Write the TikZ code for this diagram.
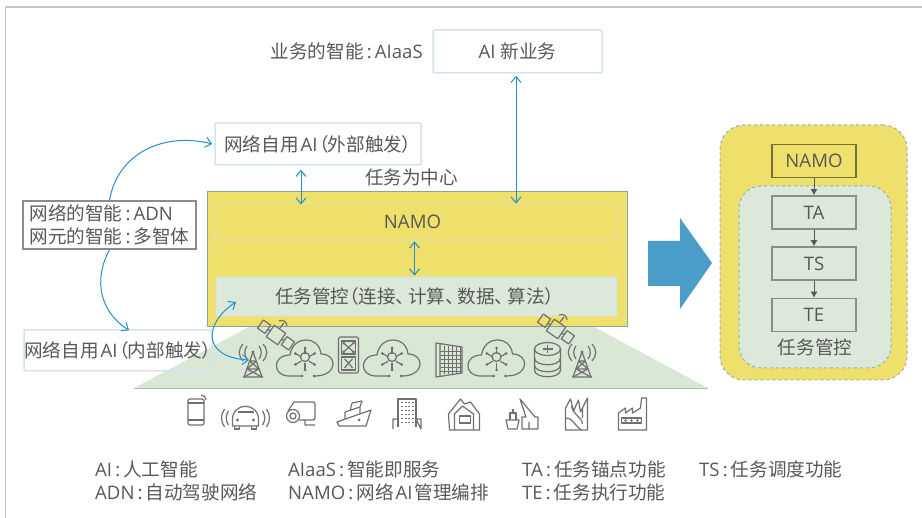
\documentclass[tikz,border=0pt]{standalone}
\usepackage{fontspec}
\setmainfont[RawFeature=+palt]{Noto Sans CJK SC}
\newfontfamily\enfont{Open Sans}
\usetikzlibrary{arrows.meta}
\definecolor{txtgray}{HTML}{585858}
\definecolor{icongray}{HTML}{707070}
\definecolor{yellowfill}{HTML}{EEE06A}
\definecolor{greenfill}{HTML}{DCE8DA}
\definecolor{trapfill}{HTML}{D9E7D5}
\definecolor{paleblue}{HTML}{D3E3F0}
\definecolor{linkblue}{HTML}{2290CF}
\definecolor{bigblue}{HTML}{4A9CC9}
\definecolor{dashblue}{HTML}{8FB0C4}
\newcommand{\en}[1]{{\enfont #1}}
\newcommand{\sep}{\,\en{:}\,}
\tikzset{
  txt/.style={text=txtgray,font=\fontsize{18.6}{22}\selectfont,inner sep=0},
  lbl/.style={txt,anchor=west},
  bluebox/.style={txt,draw=paleblue,line width=1.5,rounded corners=1},
  graybox/.style={txt,draw=gray!90,line width=1.5,minimum width=84,minimum height=33,fill=greenfill},
  link/.style={draw=linkblue,line width=1,>={Straight Barb[length=6pt,width=10pt]}},
  flow/.style={draw=txtgray,line width=1,-{Latex[length=6pt,width=7pt]}},
  ico/.style={draw=icongray,line width=1.2,line join=round},
  pics/cloud/.style={code={
    \draw[ico] (-4,17) -- (-16,17) .. controls (-33,17) and (-33,-4) .. (-15,-4)
      .. controls (-12,-24) and (14,-24) .. (16,-5) .. controls (33,-5) and (33,17) .. (10,17);
    \fill[icongray] (-3,17) circle (1.5) (9,17) circle (1.5);
    \draw[ico] (0,-2) circle (4.5);
    \foreach \a in {30,90,...,330} {
      \draw[ico] (\a:4.5) -- (\a:10);
      \fill[icongray] (\a:11) circle (1.5);
    }
  }},
  pics/tower/.style={code={
    \draw[ico] (-9,13) -- (0,-12) -- (9,13) (-10,13) -- (10,13);
    \draw[ico] (-6,5) -- (6,5) (-3.5,-3) -- (3.5,-3) (-6,5) -- (9,13) (6,5) -- (-9,13) (-3.5,-3) -- (6,5) (3.5,-3) -- (-6,5);
    \fill[icongray] (0,-12) circle (1.6);
    \draw[ico] (-6,-18) .. controls (-9,-14) and (-9,-9) .. (-6,-5) (6,-18) .. controls (9,-14) and (9,-9) .. (6,-5);
    \draw[ico] (-10,-20) .. controls (-15,-14) and (-15,-9) .. (-10,-3) (10,-20) .. controls (15,-14) and (15,-9) .. (10,-3);
  }},
  pics/sat/.style={code={
    \draw[ico,rotate=-35] (-7,-7) rectangle (7,7);
    \draw[ico,rotate=-35] (-19,-5) rectangle (-10,5) (10,-5) rectangle (19,5) (-10,0) -- (-7,0) (7,0) -- (10,0);
    \draw[ico] (4,-7) -- (8,-12) (3,-14) .. controls (7,-16) and (11,-13) .. (11,-9);
  }},
  pics/board/.style={code={
    \draw[ico,rounded corners=1.5] (-10,-18) rectangle (10,18);
    \draw[ico] (-7,-14) rectangle (7,-1) (-7,2) rectangle (7,15);
    \draw[ico] (-5,-12) -- (5,-3) (5,-12) -- (-5,-3) (-4,4) -- (0,8) -- (-4,13) (4,4) -- (0,8) -- (4,13);
    \foreach \x in {-5,5} \foreach \y in {-12,-3} \fill[icongray] (\x,\y) circle (1.5);
  }},
  pics/rack/.style={code={
    \draw[ico] (-13,-17) -- (13,-13) -- (13,13) -- (-13,17) -- cycle (-9,-16) -- (-9,16);
    \foreach \x in {-5,-1,3,7,11} \draw[icongray,line width=.5] (\x,-14) -- (\x,14);
    \foreach \y in {-9,-5,...,11} \draw[icongray,line width=.5] (-9,\y) -- (13,\y);
  }},
  pics/dbase/.style={code={
    \draw[ico] (0,-11) ellipse (13 and 6.5);
    \draw[ico] (-13,-11) -- (-13,10) .. controls (-13,19) and (13,19) .. (13,10) -- (13,-11);
    \draw[ico] (-13,-2) .. controls (-13,7) and (13,7) .. (13,-2) (-13,5) .. controls (-13,14) and (13,14) .. (13,5);
    \draw[ico] (-5,-11) -- (5,-11) (0,-15) -- (0,-7);
  }},
  pics/mobile/.style={code={
    \draw[ico,rounded corners=2] (-8,-11) rectangle (8,15);
    \draw[ico] (-8,10) -- (8,10) (-8,-7) -- (8,-7);
    \draw[ico] (5,-15) .. controls (8,-15) and (10,-13) .. (10,-10);
  }},
  pics/car/.style={code={
    \draw[ico] (-13,7) .. controls (-15,-14) and (15,-14) .. (13,7) -- (13,11) -- (-13,11) -- cycle;
    \draw[ico] (-8,-3) -- (8,-3) (-11,11) -- (-11,14) -- (-6,14) -- (-6,11) (11,11) -- (11,14) -- (6,14) -- (6,11);
    \fill[icongray] (-8,5) circle (1.7) (8,5) circle (1.7);
    \draw[ico] (-17,-4) .. controls (-20,0) and (-20,6) .. (-17,10) (17,-4) .. controls (20,0) and (20,6) .. (17,10);
    \draw[ico] (-21,-6) .. controls (-25,0) and (-25,6) .. (-21,12) (21,-6) .. controls (25,0) and (25,6) .. (21,12);
  }},
  pics/camera/.style={code={
    \draw[ico,rounded corners=2] (-7,-12) -- (14,-12) -- (14,6) -- (-2,6);
    \draw[ico] (-8,2) circle (6.5) (-8,2) circle (3);
    \draw[ico] (-13,-3) -- (-7,-12) (4,6) -- (4,11) -- (14,11);
  }},
  pics/ship/.style={code={
    \draw[ico] (-17,8) -- (17,-4) -- (12,12) -- (-15,12) -- cycle;
    \draw[ico] (-9,5) -- (-9,-2) -- (6,-7) -- (6,0) (-4,-3) -- (-2,-11) -- (8,-13) -- (6,-7);
    \fill[icongray] (5,6) circle (1.5);
  }},
  pics/tallblock/.style={code={
    \draw[ico] (-9,13) -- (-9,-15) -- (9,-15) -- (9,13);
    \draw[ico] (-14,15) -- (-14,5) -- (-9,5) (9,5) -- (14,5) -- (14,15) -- cycle;
    \foreach \y in {-11,-7,...,9} \draw[icongray,line width=1,dash pattern=on 2pt off 1.5pt] (-6,\y) -- (7,\y);
  }},
  pics/house/.style={code={
    \draw[ico] (-15,16) -- (-16,0) -- (-4,-15) -- (0,-10) -- (6,-12) -- (15,0) -- (15,16) -- cycle;
    \draw[ico] (-10,16) -- (-10,0) -- (-2,-8) -- (9,0) -- (9,16);
    \draw[ico] (-5,2) rectangle (6,9);
  }},
  pics/harbor/.style={code={
    \draw[ico] (-16,6) -- (-3,6) -- (-5,15) -- (-14,15) -- cycle;
    \draw[ico] (-12,6) -- (-12,-1) -- (-6,-1) -- (-6,6) (-9,-1) -- (-9,-5);
    \draw[ico] (0,15) -- (0,3) -- (4,3) -- (-2,-15) -- (13,3) -- (16,3) -- (16,15) -- cycle (7,15) -- (7,8);
  }},
  pics/mine/.style={code={
    \draw[ico] (-11,16) -- (-11,-6) -- (-6,-15) -- (-3,-3) -- (2,-14) -- (4,-2) -- (11,-16) -- (11,16) -- cycle;
    \draw[ico] (-11,4) .. controls (-3,4) and (-2,12) .. (5,16) (-5,-8) .. controls (-3,2) and (5,2) .. (6,10) (6,-6) -- (6,4);
  }},
  pics/factory/.style={code={
    \draw[ico] (-14,16) -- (-14,-1) -- (-7,-6) -- (-7,-1) -- (0,-6) -- (0,-1) -- (8,-6) -- (9,-16) -- (14,-16) -- (14,16) -- cycle;
    \draw[ico] (-11,4) rectangle (9,9);
    \foreach \x in {-7,-1,5} \fill[icongray] (\x,6.5) circle (1.4);
  }},
}
\begin{document}
\begin{tikzpicture}[x=1pt,y=-1pt]
  \useasboundingbox (0,0) rectangle (922,518);
  \draw[gray!45,line width=1.2] (5.5,518) -- (5.5,7) -- (922,7);

  % left part
  \fill[trapfill] (134,388) -- (249,327) -- (594,327) -- (708,388) -- cycle;
  \draw[gray!55,line width=.8] (134,388) -- (708,388);
  \node[draw=dashblue!70!gray,line width=.8,fill=yellowfill,minimum width=420,minimum height=135] (yellowbox) at (417,258.5) {};
  \node[draw=gray!25,line width=.8,fill=yellowfill,rounded corners=1,minimum width=403,minimum height=37,txt] (namobar) at (416.5,221.5) {\kern-8pt\en{NAMO}};
  \node[draw=paleblue,line width=.8,fill=greenfill,rounded corners=1,minimum width=401,minimum height=39,txt] (taskbar) at (416.5,296.5) {\kern-4pt任务管控（连接、\,计算、\,数据、\,算法）};
  \node[bluebox,minimum width=169,minimum height=43] (aibox) at (517.5,51.5) {\en{AI}\kern5pt 新业务};
  \node[txt,anchor=east] (aaslabel) at (423,51) {业务的智能\sep\en{AIaaS}};
  \node[bluebox,fill=white,minimum width=206,minimum height=42] (extbox) at (318,144) {网络自用\kern2pt\en{AI}\kern1pt（外部触发）};
  \node[txt] (center) at (411.5,177) {任务为中心};
  \node[txt,draw=gray!90,line width=1.6,fill=white,minimum width=173,minimum height=48,align=left] (netbox) at (109.5,225) {网络的智能\sep\en{ADN}\\[1pt]网元的智能\sep 多智体};
  \node[bluebox,minimum width=188,minimum height=41] (intbox) at (118,350.5) {网络自用\kern2pt\en{AI}\kern1pt（内部触发）};

  % icons
  \pic at (253,364) {tower};
  \coordinate (tower) at (249,360);
  \pic at (276,335) {sat};
  \pic at (305,359) {cloud};
  \pic at (348.5,355) {board};
  \pic at (392,359) {cloud};
  \pic at (449,360) {rack};
  \pic at (496.5,359) {cloud};
  \pic at (547.5,360) {dbase};
  \pic at (556,329) {sat};
  \pic at (582,364) {tower};
  \pic at (196,410) {mobile};
  \pic at (245.5,415) {car};
  \pic at (301,414) {camera};
  \pic at (354,414) {ship};
  \pic at (407,414) {tallblock};
  \pic at (464.5,414) {house};
  \pic at (522,414) {harbor};
  \pic at (576.5,414) {mine};
  \pic at (632.5,414) {factory};

  % blue links
  \coordinate (taskin) at (236,302);
  \draw[link,->] (netbox.north) .. controls (118,152) and (165,132) .. ([xshift=-2]extbox.west);
  \draw[link,->] (netbox.south) .. controls (93,280) and (100,312) .. ([xshift=11,yshift=-1]intbox.north);
  \draw[link,<->] ([xshift=-17,yshift=-4]extbox.south) -- ([xshift=-115.5,yshift=-2]namobar.north);
  \draw[link,<->] ([xshift=-1.5,yshift=-2]aibox.south) -- ([xshift=99.5,yshift=-1]namobar.north);
  \draw[link,<->] ([xshift=-2,yshift=-1]namobar.south) -- ([xshift=-2,yshift=1]taskbar.north);
  \draw[link,<->] (taskin) .. controls (205,322) and (200,357) .. (tower);

  % big arrow
  \fill[bigblue] (648,241) -- (680,241) -- (680,218) -- (712,263) -- (680,309) -- (680,286) -- (648,286) -- cycle;

  % right part
  \node[draw=dashblue,dashed,line width=1,fill=yellowfill,rounded corners=24,minimum width=187,minimum height=255] (outer) at (813.5,252.5) {};
  \node[draw=dashblue,dashed,line width=1,fill=greenfill,rounded corners=22,minimum width=152,minimum height=182] (inner) at (815,277) {};
  \node[graybox,fill=yellowfill,draw=black!50!yellowfill] (namo) at (814,161) {\en{NAMO}};
  \node[graybox] (ta) at (814,212.5) {\en{TA}};
  \node[graybox] (ts) at (814,263.5) {\en{TS}};
  \node[graybox] (te) at (814,315) {\en{TE}};
  \node[txt] (tasktitle) at (815,347) {任务管控};
  \draw[flow] (namo) -- (ta);
  \draw[flow] (ta) -- (ts);
  \draw[flow] (ts) -- (te);

  % legend
  \node[lbl] (l1) at (95,469) {\en{AI}\sep 人工智能};
  \node[lbl] (l2) at (95,492) {\en{ADN}\sep 自动驾驶网络};
  \node[lbl] (l3) at (288,469) {\en{AIaaS}\sep 智能即服务};
  \node[lbl] (l4) at (288,492) {\en{NAMO}\sep 网络\kern2pt\en{AI}\kern2pt 管理编排};
  \node[lbl] (l5) at (522,469) {\en{TA}\sep 任务锚点功能};
  \node[lbl] (l6) at (522,492) {\en{TE}\sep 任务执行功能};
  \node[lbl] (l7) at (699,469) {\en{TS}\sep 任务调度功能};
\end{tikzpicture}
\end{document}
